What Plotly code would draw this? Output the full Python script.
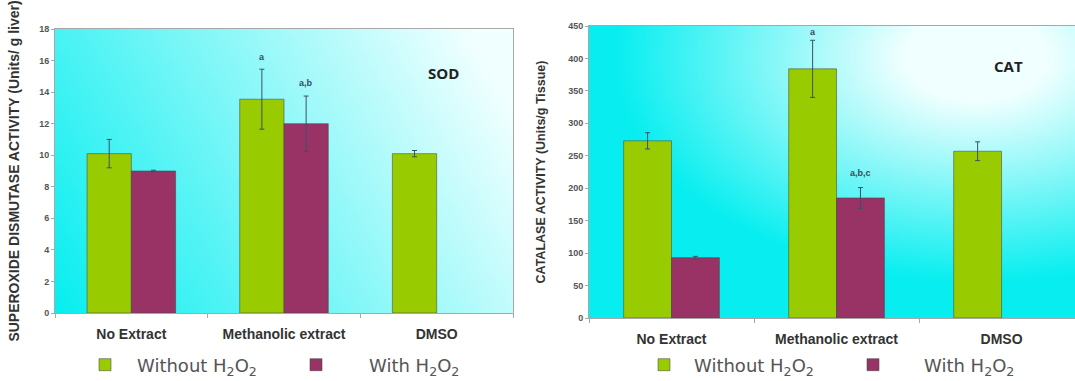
import base64
import struct
import zlib

import plotly.graph_objects as go

# ---------------- data ----------------
categories = ["No Extract", "Methanolic extract", "DMSO"]

sod_without = [10.1, 13.55, 10.1]
sod_without_err = [0.9, 1.9, 0.2]
sod_with = [9.0, 12.0, None]
sod_with_err = [0.05, 1.75, None]

cat_without = [273, 384, 257]
cat_without_err = [12.5, 44, 14.5]
cat_with = [93, 185, None]
cat_with_err = [2, 16, None]

# significance letters: (text, category index, series, label y value)
sod_letters = [("a", 1, "without", 16.2), ("a,b", 1, "with", 14.6)]
cat_letters = [("a", 1, "without", 441), ("a,b,c", 1, "with", 224)]

series_names = ["Without H<sub>2</sub>O<sub>2</sub>", "With H<sub>2</sub>O<sub>2</sub>"]

# ---------------- styles ----------------
GREEN = "#99cc00"
MAROON = "#993366"
ERR = "#3b5068"
AXIS = "#a8a8a8"
BARGAP = 0.42
HALF = (1 - BARGAP) / 4  # offset of each bar centre from category centre


def png_uri(w, h, fn):
    rows = bytearray()
    for j in range(h):
        rows.append(0)
        v = 1 - j / (h - 1)  # 1 at top, 0 at bottom
        for i in range(w):
            u = i / (w - 1)
            rows.extend(bytes(fn(u, v)))

    def chunk(tag, data):
        c = struct.pack(">I", len(data)) + tag + data
        return c + struct.pack(">I", zlib.crc32(tag + data) & 0xFFFFFFFF)

    png = b"\x89PNG\r\n\x1a\n"
    png += chunk(b"IHDR", struct.pack(">IIBBBBB", w, h, 8, 2, 0, 0, 0))
    png += chunk(b"IDAT", zlib.compress(bytes(rows), 9))
    png += chunk(b"IEND", b"")
    return "data:image/png;base64," + base64.b64encode(png).decode()


CYAN = (8, 238, 240)
WHITE = (240, 255, 255)


def mix(t):
    t = max(0.0, min(1.0, t))
    return tuple(int(round(c + (w - c) * t)) for c, w in zip(CYAN, WHITE))


def grad_left(u, v):
    return mix(0.8 * u + 0.28 * v)


def grad_right(u, v):
    d = (((u - 0.8) / 0.75) ** 2 + ((v - 0.9) / 0.78) ** 2) ** 0.5
    return mix((1 - d) * 1.25)


fig = go.Figure()

W, H = 1075, 381
LEG_Y = 1 - 365 / H
# legend boxes: (legend id, left px, item width px) -- one per entry
legend_boxes = {
    "legend": (73, 54),
    "legend2": (263, 96),
    "legend3": (634, 50),
    "legend4": (822, 92),
}


def add_panel(xa, ya, without, without_err, with_, with_err, leg_a, leg_b):
    fig.add_trace(go.Bar(
        x=categories, y=without, name=series_names[0], xaxis=xa, yaxis=ya,
        marker=dict(color=GREEN, line=dict(color="rgba(70,70,70,0.55)", width=1)),
        error_y=dict(type="data", array=without_err, color=ERR, thickness=1, width=2.5),
        legend=leg_a, showlegend=True,
    ))
    fig.add_trace(go.Bar(
        x=categories, y=with_, name=series_names[1], xaxis=xa, yaxis=ya,
        marker=dict(color=MAROON, line=dict(color="rgba(70,70,70,0.55)", width=1)),
        error_y=dict(type="data", array=[e if e is not None else 0 for e in with_err],
                     color=ERR, thickness=1, width=2.5),
        legend=leg_b, showlegend=True,
    ))


add_panel("x", "y", sod_without, sod_without_err, sod_with, sod_with_err, "legend", "legend2")
add_panel("x2", "y2", cat_without, cat_without_err, cat_with, cat_with_err, "legend3", "legend4")

L_dom_x = [55 / W, 513 / W]
L_dom_y = [1 - 313 / H, 1 - 29 / H]
R_dom_x = [589 / W, 1.0]
R_dom_y = [1 - 318 / H, 1 - 26 / H]

xcommon = dict(
    type="category", categoryorder="array", categoryarray=categories,
    showline=True, linecolor=AXIS, linewidth=1, mirror=True,
    ticks="outside", tickson="boundaries", ticklen=4, tickcolor=AXIS,
    tickfont=dict(family="Liberation Sans", size=14, color="#333333", weight="bold"),
    ticklabelstandoff=8, showgrid=False, zeroline=False, automargin=False,
)
ycommon = dict(
    showline=True, linecolor=AXIS, linewidth=1, mirror=True,
    ticks="outside", ticklen=3, tickcolor=AXIS, showgrid=False, zeroline=False,
    tickfont=dict(family="Liberation Sans", size=9, color="#555555", weight="bold"),
    automargin=False,
)
legend_font = dict(family="DejaVu Sans", size=18, color="#555555")

legends = {}
for key, (left, iw) in legend_boxes.items():
    legends[key] = dict(orientation="h", x=left / W, xanchor="left", y=LEG_Y, yanchor="middle",
                        itemwidth=iw, bgcolor="rgba(0,0,0,0)", font=legend_font)

fig.update_layout(
    width=W, height=H, margin=dict(l=0, r=0, t=0, b=0, autoexpand=False),
    paper_bgcolor="white", plot_bgcolor="rgba(0,0,0,0)",
    showlegend=True,
    barmode="group", bargap=BARGAP, bargroupgap=0,
    font=dict(family="Liberation Sans"),
    xaxis=dict(domain=L_dom_x, anchor="y", range=[-0.5, 2.5], **xcommon),
    yaxis=dict(domain=L_dom_y, anchor="x", range=[0, 18], dtick=2,
               title=dict(text="SUPEROXIDE DISMUTASE ACTIVITY (Units/ g liver)", standoff=16,
                          font=dict(size=14, color="#333333", weight="bold")),
               **ycommon),
    xaxis2=dict(domain=R_dom_x, anchor="y2", range=[-0.5, 2.445], **xcommon),
    yaxis2=dict(domain=R_dom_y, anchor="x2", range=[0, 450], dtick=50,
                title=dict(text="CATALASE ACTIVITY (Units/g Tissue)", standoff=19,
                           font=dict(size=12.5, color="#333333", weight="bold")),
                **ycommon),
    images=[
        dict(source=png_uri(96, 60, grad_left), xref="x domain", yref="y domain",
             x=0, y=1, sizex=1, sizey=1, sizing="stretch", xanchor="left", yanchor="top",
             layer="below"),
        dict(source=png_uri(96, 60, grad_right), xref="x2 domain", yref="y2 domain",
             x=0, y=1, sizex=1, sizey=1, sizing="stretch", xanchor="left", yanchor="top",
             layer="below"),
    ],
    **legends,
)

annotations = []
for (txt, idx, ser, yv) in sod_letters:
    annotations.append(dict(x=idx + (-HALF if ser == "without" else HALF), y=yv,
                            xref="x", yref="y", text=txt, showarrow=False,
                            xanchor="center", yanchor="middle",
                            font=dict(size=9, color="#3c4a58", weight="bold")))
for (txt, idx, ser, yv) in cat_letters:
    annotations.append(dict(x=idx + (-HALF if ser == "without" else HALF), y=yv,
                            xref="x2", yref="y2", text=txt, showarrow=False,
                            xanchor="center", yanchor="middle",
                            font=dict(size=9, color="#3c4a58", weight="bold")))
annotations.append(dict(x=(443 - 55) / 458, y=(313 - 73) / 284, xref="x domain", yref="y domain",
                        text="SOD", showarrow=False, xanchor="center", yanchor="middle",
                        font=dict(family="Open Sans", size=15, color="#222222", weight="bold")))
annotations.append(dict(x=(1008 - 589) / 486, y=(318 - 66) / 292, xref="x2 domain", yref="y2 domain",
                        text="CAT", showarrow=False, xanchor="center", yanchor="middle",
                        font=dict(family="Open Sans", size=15, color="#222222", weight="bold")))
fig.update_layout(annotations=annotations)

fig.write_html("out.html", config={"displayModeBar": False},
               post_script="document.body.style.margin='0';")
